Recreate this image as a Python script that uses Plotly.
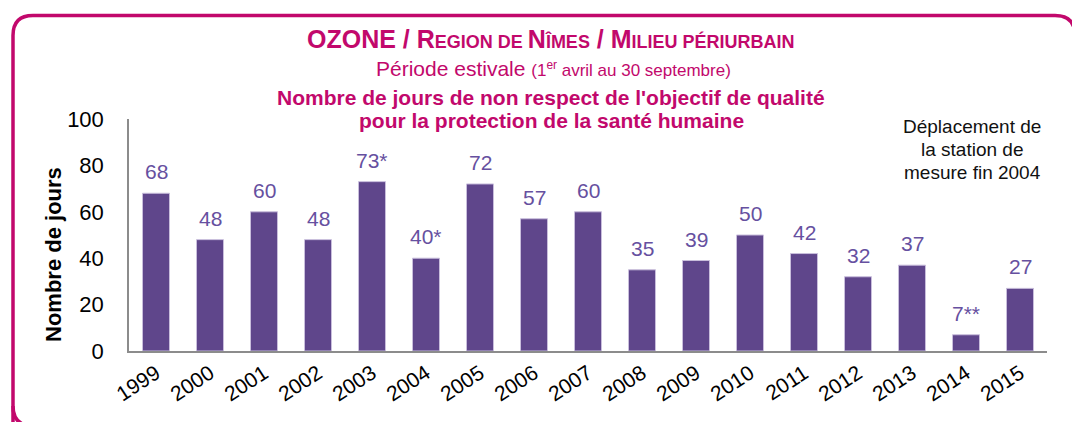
import plotly.graph_objects as go

years = ["1999", "2000", "2001", "2002", "2003", "2004", "2005", "2006", "2007",
         "2008", "2009", "2010", "2011", "2012", "2013", "2014", "2015"]
days = [68, 48, 60, 48, 73, 40, 72, 57, 60, 35, 39, 50, 42, 32, 37, 7, 27]
labels = ["68", "48", "60", "48", "73*", "40*", "72", "57", "60", "35", "39", "50",
          "42", "32", "37", "7**", "27"]
y_ticks = [0, 20, 40, 60, 80, 100]

W, H = 1072, 422
L, R, T, B = 129, 25, 119, 71
PW, PH = W - L - R, H - T - B

def px(x):
    return (x - L) / PW

def py(y):
    return (H - B - y) / PH

MAG = "#c2086c"
BAR = "#5f468b"
LAB = "#6650a0"
FONT = "Liberation Sans, Arial, sans-serif"

fig = go.Figure()
fig.add_trace(go.Bar(
    x=years, y=days,
    marker=dict(color=BAR, line=dict(color="#c9bedc", width=1)),
    hoverinfo="skip",
))

annotations = []
for i, (v, lab) in enumerate(zip(days, labels)):
    annotations.append(dict(
        x=i, y=v, xref="x", yref="y", text=lab, showarrow=False,
        xanchor="center", yanchor="bottom", yshift=8,
        font=dict(size=21, color=LAB, family=FONT)))

def note(xp, yp, text, size, color, bold=False, angle=0):
    return dict(x=px(xp), y=py(yp), xref="paper", yref="paper",
                text=("<b>%s</b>" % text) if bold else text,
                xanchor="center", yanchor="middle", showarrow=False, textangle=angle,
                font=dict(size=size, color=color, family=FONT))

sc = "font-size:18px"
title1 = ("OZONE / R<span style='%s'>EGION DE </span>N<span style='%s'>ÎMES</span> / "
          "M<span style='%s'>ILIEU PÉRIURBAIN</span>") % (sc, sc, sc)
title2 = "Période estivale <span style='font-size:17px'>(1<sup>er</sup> avril au 30 septembre)</span>"
annotations += [
    note(551, 39, title1, 25, MAG, bold=True),
    note(553, 68, title2, 21, MAG),
    note(551, 97, "Nombre de jours de non respect de l'objectif de qualité", 21, MAG, bold=True),
    note(551, 120, "pour la protection de la santé humaine", 21, MAG, bold=True),
    note(972, 126, "Déplacement de", 19, "#111111"),
    note(972, 149, "la station de", 19, "#111111"),
    note(972, 172, "mesure fin 2004", 19, "#111111"),
    note(53, 255, "Nombre de jours", 22, "#000000", bold=True, angle=-90),
]

# rounded border
x0, y0, x1, y1, r = 13, 15.5, 1075, 426, 20
path = (f"M {px(x0)},{py(y1)} L {px(x0)},{py(y0 + r)} "
        f"Q {px(x0)},{py(y0)} {px(x0 + r)},{py(y0)} "
        f"L {px(x1 - r)},{py(y0)} Q {px(x1)},{py(y0)} {px(x1)},{py(y0 + r)} "
        f"L {px(x1)},{py(y1)}")
bottom = (f"M {px(x0)},{py(y1 - r)} Q {px(x0)},{py(y1)} {px(x0 + r)},{py(y1)}")

fig.update_layout(
    width=W, height=H,
    margin=dict(l=L, r=R, t=T, b=B, pad=0),
    paper_bgcolor="white", plot_bgcolor="white",
    bargap=0.5,
    showlegend=False,
    font=dict(family=FONT, color="#000000"),
    annotations=annotations,
    shapes=[dict(type="path", xref="paper", yref="paper", path=path,
                 line=dict(color=MAG, width=3.5)),
            dict(type="path", xref="paper", yref="paper", path=bottom,
                 line=dict(color=MAG, width=3.5))],
    xaxis=dict(type="category", range=[-0.5, len(years) - 0.5], autorange=False,
               showgrid=False, showline=True, linecolor="#8c8c8c",
               linewidth=2, ticks="", tickangle=-33,
               tickfont=dict(size=21, color="#000000"), fixedrange=True),
    yaxis=dict(range=[0, 100], autorange=False, tickvals=y_ticks, showgrid=False,
               zeroline=False, showline=True, linecolor="#8c8c8c", linewidth=1.5,
               ticks="", ticklabelstandoff=19, tickfont=dict(size=22, color="#000000"),
               fixedrange=True),
)

fig.write_html("out.html")
